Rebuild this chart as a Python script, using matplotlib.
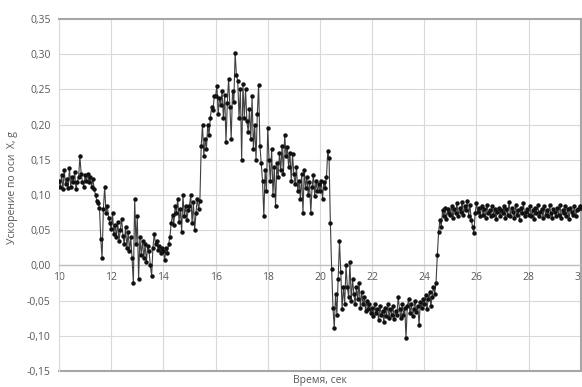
import numpy as np
import matplotlib
matplotlib.use("Agg")
import matplotlib.pyplot as plt
from matplotlib.ticker import FuncFormatter, MultipleLocator

# Продольное ускорение, тысячные доли g, 20 отсчётов на секунду (строка = 1 с)
T_START = 10.0
DT = 0.05
accel_mg = [
    # 10 c
    120, 112, 128, 108, 135, 115, 122, 110, 138, 112, 125, 118, 132, 108, 118, 125, 155, 130, 118, 112,
    # 11 c
    128, 120, 130, 118, 126, 112, 122, 108, 100, 92, 88, 82, 38, 10, 80, 112, 75, 85, 68, 60,
    # 12 c
    52, 74, 45, 58, 40, 62, 35, 50, 66, 42, 30, 55, 25, 48, 20, 40, 10, -25, 95, 30,
    # 13 c
    70, -20, 40, 15, 35, 10, 30, 5, 28, 20, 0, -15, 25, 45, 30, 35, 22, 28, 18, 25,
    # 14 c
    20, 8, 25, 18, 30, 40, 60, 72, 58, 85, 75, 95, 62, 80, 48, 100, 70, 85, 65, 78,
    # 15 c
    85, 100, 60, 90, 50, 75, 95, 80, 92, 170, 200, 155, 180, 165, 200, 185, 210, 225, 220, 240,
    # 16 c
    240, 255, 215, 238, 228, 248, 210, 242, 175, 230, 265, 225, 180, 248, 232, 302, 270, 262, 210, 250,
    # 17 c
    150, 258, 210, 250, 205, 190, 222, 180, 240, 165, 200, 150, 215, 256, 170, 145, 120, 70, 135, 105,
    # 18 c
    195, 150, 120, 165, 100, 140, 85, 145, 125, 160, 135, 170, 130, 185, 155, 168, 140, 160, 120, 158,
    # 19 c
    130, 115, 140, 105, 120, 95, 130, 75, 135, 110, 125, 100, 118, 75, 112, 128, 98, 120, 105, 115,
    # 20 c
    105, 120, 95, 118, 110, 125, 162, 152, 60, -5, -60, -89, -40, -70, -20, 34, -10, -62, -30, -55,
    # 21 c
    0, -30, -45, 5, -50, -20, -40, -55, -30, -48, -25, -60, -38, -55, -45, -65, -50, -62, -55, -68,
    # 22 c
    -60, -72, -55, -68, -62, -78, -58, -70, -65, -80, -60, -72, -55, -75, -62, -70, -58, -76, -65, -70,
    # 23 c
    -45, -62, -75, -55, -70, -60, -103, -58, -48, -68, -55, -72, -62, -50, -66, -58, -85, -52, -60, -48,
    # 24 c
    -55, -42, -62, -48, -38, -58, -45, -30, -40, -25, 15, 48, 65, 55, 78, 70, 82, 66, 80, 75,
    # 25 c
    72, 85, 68, 80, 74, 88, 70, 82, 76, 90, 72, 84, 78, 92, 70, 86, 65, 55, 46, 74,
    # 26 c
    88, 76, 82, 70, 85, 72, 80, 68, 86, 74, 78, 70, 84, 72, 80, 66, 76, 82, 70, 78,
    # 27 c
    74, 84, 68, 80, 72, 90, 70, 82, 76, 68, 86, 72, 78, 64, 82, 74, 88, 70, 76, 80,
    # 28 c
    72, 84, 70, 78, 66, 82, 74, 86, 70, 76, 80, 68, 84, 72, 78, 70, 86, 74, 68, 80,
    # 29 c
    76, 70, 82, 72, 86, 68, 78, 74, 84, 70, 80, 66, 82, 76, 72, 84, 70, 78, 80, 85,
    # 30 c
    82,
]

x_ticks = [10, 12, 14, 16, 18, 20, 22, 24, 26, 28, 30]
y_min, y_max, y_step = -0.15, 0.35, 0.05

accel = np.array(accel_mg) / 1000.0
t = T_START + DT * np.arange(len(accel))

TEXT = "#595959"
GRID = "#d9d9d9"
FRAME = "#a6a6a6"
FONT = ["Open Sans", "DejaVu Sans"]

fig = plt.figure(figsize=(5.82, 3.87), dpi=100)
ax = fig.add_axes([0.1014, 0.0413, 0.8966, 0.9097])

ax.plot(t, accel, color="#404040", lw=0.8, marker="o", ms=2.2,
        mfc="#111111", mec="#111111", zorder=3)

ax.set_xlim(10, 30)
ax.set_ylim(y_min, y_max)
ax.set_xticks(x_ticks)
ax.yaxis.set_major_locator(MultipleLocator(y_step))
ax.grid(True, color=GRID, lw=0.8)
ax.set_axisbelow(True)

fmt_y = FuncFormatter(lambda v, p: f"{v:.2f}".replace(".", ",").replace("-0,00", "0,00"))
ax.yaxis.set_major_formatter(fmt_y)

# горизонтальная ось проходит через ноль, подписи под ней
ax.spines["bottom"].set_position(("data", 0))
ax.spines["bottom"].set_color("#bfbfbf")
ax.spines["bottom"].set_linewidth(1.0)
ax.spines["left"].set_color(GRID)
ax.spines["top"].set_color(FRAME)
ax.spines["right"].set_color(FRAME)
ax.spines["top"].set_linewidth(1.5)
ax.spines["right"].set_linewidth(1.5)
ax.plot([0, 1], [0, 0], transform=ax.transAxes, color=FRAME, lw=1.5, clip_on=False)

ax.tick_params(axis="both", length=0, colors=TEXT, labelsize=7.5)
ax.tick_params(axis="x", pad=5)
ax.tick_params(axis="y", pad=6)
for lab in ax.get_xticklabels() + ax.get_yticklabels():
    lab.set_family(FONT)

ax.set_xlabel("Время, сек", color=TEXT, fontsize=7.5, family=FONT)
ax.xaxis.set_label_coords(0.5, -0.01)
ax.set_ylabel("Ускорение по оси  X, g", color=TEXT, fontsize=7.5, family=FONT)
ax.yaxis.set_label_coords(-0.078, 0.52)

fig.savefig("out.png", dpi=100)
